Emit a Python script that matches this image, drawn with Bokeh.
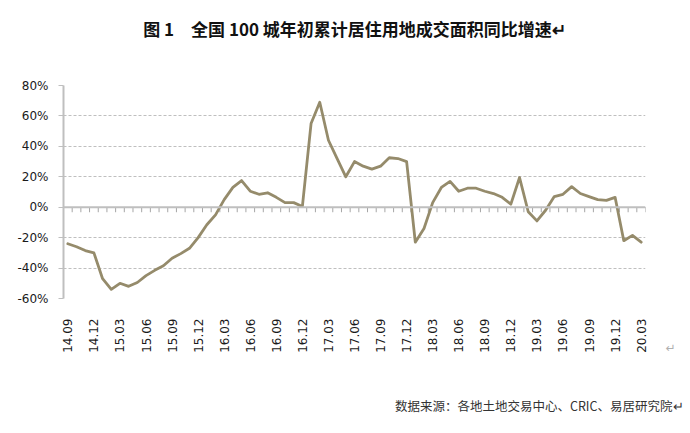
import math
import numpy as np
from bokeh.plotting import figure
from bokeh.models import (Range1d, FixedTicker, Span, Title, ColumnDataSource)
from bokeh.embed import file_html
from bokeh.resources import INLINE

# Monthly YoY growth (%) of cumulative residential land transaction area, 100 cities
# 2014.09 .. 2020.03
growth = [-24, -26, -28.5, -30, -47, -54, -50, -52, -49.5, -45, -41.5, -38.5,
          -33.5, -30.5, -27, -20, -11.5, -5, 5, 13, 17.5, 10.5, 8.5, 9.5,
          6.5, 3, 3, 0.5, 55, 69, 44, 32, 20, 30, 27, 25,
          27, 32.5, 32, 30, -23, -14, 3, 13, 17, 10.5, 12.5, 12.5,
          10.5, 9, 6.5, 2, 19.5, -3, -9, -2, 7, 8.5, 13.5, 9,
          7, 5, 4.5, 6.5, -22, -18.5, -23]
tick_labels = ["14.09", "14.12", "15.03", "15.06", "15.09", "15.12", "16.03",
               "16.06", "16.09", "16.12", "17.03", "17.06", "17.09", "17.12",
               "18.03", "18.06", "18.09", "18.12", "19.03", "19.06", "19.09",
               "19.12", "20.03"]
y_ticks = [-60, -40, -20, 0, 20, 40, 60, 80]

title_text = "图 1　全国 100 城年初累计居住用地成交面积同比增速↵"
source_text = "数据来源：各地土地交易中心、CRIC、易居研究院↵"

n = len(growth)
xs = list(range(n))

p = figure(width=690, height=433, output_backend="svg", toolbar_location=None,
           title=None, x_range=Range1d(-0.5, n - 0.5), y_range=Range1d(-60, 80),
           min_border_left=63, min_border_right=45, min_border_top=85,
           min_border_bottom=135)
p.outline_line_color = None
p.background_fill_color = "white"
p.border_fill_color = "white"

# grid
p.xgrid.visible = False
p.ygrid.ticker = FixedTicker(ticks=y_ticks)
p.ygrid.grid_line_color = "#bfbfbf"
p.ygrid.grid_line_dash = "3 2"
p.ygrid.grid_line_width = 1

# left axis
ya = p.yaxis[0]
ya.ticker = FixedTicker(ticks=y_ticks)
ya.major_label_overrides = {v: f"{v}%" for v in y_ticks}
ya.axis_line_color = "#bfbfbf"
ya.axis_line_width = 2
ya.major_tick_line_color = "#bfbfbf"
ya.major_tick_out = 5
ya.major_tick_in = 0
ya.minor_tick_line_color = None
ya.major_label_text_font = "DejaVu Sans"
ya.major_label_text_font_size = "12px"
ya.major_label_text_color = "#1a1a1a"
ya.major_label_standoff = 10

# bottom axis (labels only)
xa = p.xaxis[0]
tick_pos = list(range(0, n, 3))
xa.ticker = FixedTicker(ticks=tick_pos)
xa.major_label_overrides = {t: lab for t, lab in zip(tick_pos, tick_labels)}
xa.axis_line_color = None
xa.major_tick_line_color = None
xa.minor_tick_line_color = None
xa.major_label_orientation = math.pi / 2
xa.major_label_standoff = 14
xa.major_label_text_font = "DejaVu Sans"
xa.major_label_text_font_size = "12px"
xa.major_label_text_color = "#1a1a1a"

# zero axis line with category tick marks
p.add_layout(Span(location=0, dimension="width", line_color="#bfbfbf", line_width=2))
bounds = np.arange(n + 1) - 0.5
p.segment(x0=bounds, y0=np.zeros(n + 1), x1=bounds, y1=np.full(n + 1, -3.3),
          line_color="#a6a6a6", line_width=1)

# data line
src = ColumnDataSource(dict(x=xs, y=growth))
p.line("x", "y", source=src, line_color="#958b6b", line_width=2.8,
       line_join="round", line_cap="round")

# title (spacer nearest the frame, then the title text)
p.add_layout(Title(text=" ", standoff=42, text_font_size="1px",
                   text_color="white"), "above")
p.add_layout(Title(text=title_text, align="center", offset=11, standoff=0,
                   text_font="Noto Sans CJK SC", text_font_style="bold",
                   text_font_size="17px", text_color="#111111"), "above")

# notes below: paragraph mark, spacer, source
p.add_layout(Title(text="↵", align="right", offset=-30, standoff=-30,
                   vertical_align="top",
                   text_font="DejaVu Sans", text_font_style="normal",
                   text_font_size="12px", text_color="#b0b0b0"), "below")
p.add_layout(Title(text=" ", standoff=35, text_font_size="1px",
                   text_color="white"), "below")
p.add_layout(Title(text=source_text, align="right", offset=-38, standoff=0,
                   text_font="Noto Sans CJK SC", text_font_style="normal",
                   text_font_size="12.5px", text_color="#333333"), "below")

open("out.html", "w").write(file_html(p, INLINE))
